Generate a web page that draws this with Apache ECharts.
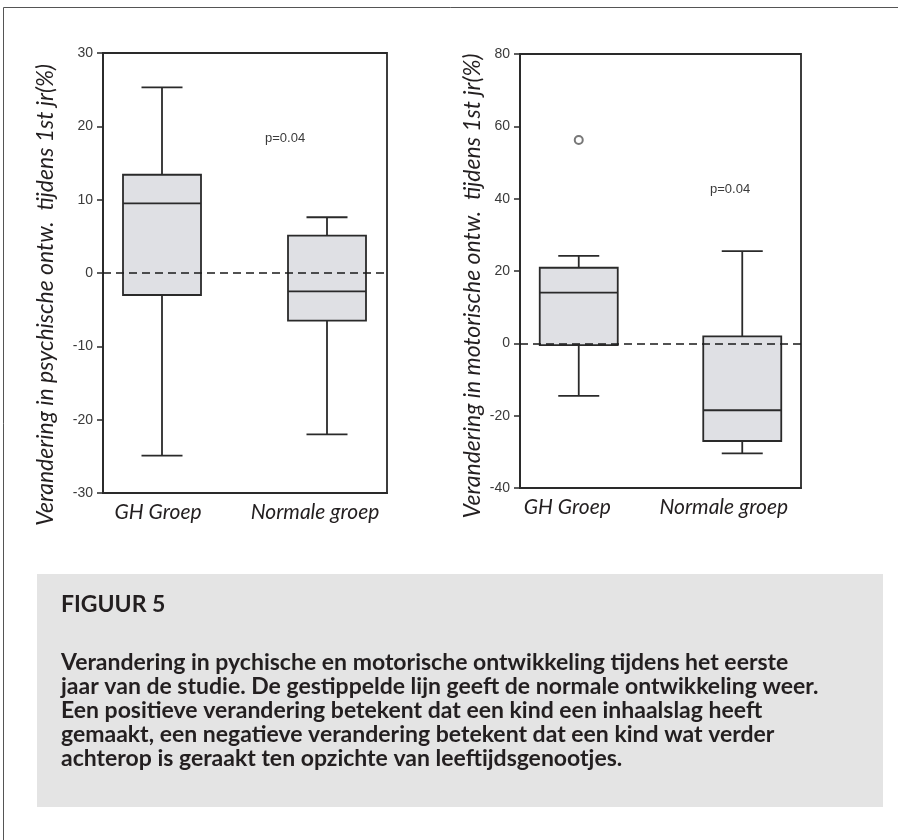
<!DOCTYPE html>
<html>
<head>
<meta charset="utf-8">
<script src="https://cdn.jsdelivr.net/npm/echarts@6/dist/echarts.min.js"></script>
<style>
  html, body { margin: 0; padding: 0; background: #fff; }
  #chart { width: 898px; height: 840px; }
</style>
</head>
<body>
<div id="chart"></div>
<script>
// groepen
const groups = ['GH Groep', 'Normale groep'];

// psychische ontwikkeling (links)
const psychMin = [-24.9, -22.0];
const psychQ1 = [-3.0, -6.5];
const psychMed = [9.5, -2.5];
const psychQ3 = [13.4, 5.1];
const psychMax = [25.3, 7.6];

// motorische ontwikkeling (rechts)
const motorMin = [-14.5, -30.4];
const motorQ1 = [-0.5, -27.0];
const motorMed = [14.0, -18.5];
const motorQ3 = [20.9, 1.9];
const motorMax = [24.2, 25.5];
const motorOutliers = [['GH Groep', 56.2]];

const psychTicks = { min: -30, max: 30, interval: 10 };
const motorTicks = { min: -40, max: 80, interval: 20 };

const yNamePsych = 'Verandering in psychische ontw.  tijdens 1st jr(%)';
const yNameMotor = 'Verandering in motorische ontw.  tijdens 1st jr(%)';
const pLabel = 'p=0.04';

const captionTitle = 'FIGUUR 5';
const captionLines = [
  'Verandering in pychische en motorische ontwikkeling tijdens het eerste',
  'jaar van de studie. De gestippelde lijn geeft de normale ontwikkeling weer.',
  'Een positieve verandering betekent dat een kind een inhaalslag heeft',
  'gemaakt, een negatieve verandering betekent dat een kind wat verder',
  'achterop is geraakt ten opzichte van leeftijdsgenootjes.'
];

const ink = '#2a2a2a';
const boxFill = '#dfe0e4';
const tickFont = "'Liberation Sans Narrow', 'Liberation Sans', Arial, sans-serif";
const textFont = "Lato, 'Open Sans', sans-serif";

const toBox = (mn, q1, md, q3, mx) => groups.map((g, i) => [i, mn[i], q1[i], md[i], q3[i], mx[i]]);

// box met smalle whisker-kapjes
const makeRender = (halfBox, halfCap) => (params, api) => {
  const idx = api.value(0);
  const pt = (d) => api.coord([idx, api.value(d)]);
  const pMin = pt(1), pQ1 = pt(2), pMed = pt(3), pQ3 = pt(4), pMax = pt(5);
  const cx = pMin[0];
  const st = { stroke: ink, lineWidth: 1.8 };
  return {
    type: 'group',
    children: [
      { type: 'line', shape: { x1: cx, y1: pMax[1], x2: cx, y2: pQ3[1] }, style: st },
      { type: 'line', shape: { x1: cx, y1: pQ1[1], x2: cx, y2: pMin[1] }, style: st },
      { type: 'line', shape: { x1: cx - halfCap, y1: pMax[1], x2: cx + halfCap, y2: pMax[1] }, style: st },
      { type: 'line', shape: { x1: cx - halfCap, y1: pMin[1], x2: cx + halfCap, y2: pMin[1] }, style: st },
      {
        type: 'rect',
        shape: { x: cx - halfBox, y: pQ3[1], width: halfBox * 2, height: pQ1[1] - pQ3[1] },
        style: { fill: boxFill, stroke: ink, lineWidth: 1.8 }
      },
      { type: 'line', shape: { x1: cx - halfBox, y1: pMed[1], x2: cx + halfBox, y2: pMed[1] }, style: st }
    ]
  };
};

const catLabelRich = (shifts) => {
  const rich = {};
  shifts.forEach((s, i) => {
    rich['s' + i] = {
      fontFamily: textFont, fontStyle: 'italic', fontSize: 21, color: '#231f20',
      padding: [0, s, 0, 0]
    };
  });
  return rich;
};

const visibleX = (gridIndex, shifts) => ({
  type: 'category',
  gridIndex,
  data: groups,
  axisLine: { show: true, onZero: false, lineStyle: { color: ink, width: 1.8 } },
  axisTick: { show: false },
  axisLabel: {
    margin: 9,
    formatter: (v, i) => '{s' + i + '|' + v + '}',
    rich: catLabelRich(shifts)
  }
});

const hiddenX = (gridIndex) => ({
  type: 'category', gridIndex, data: groups, show: false
});

const visibleY = (gridIndex, ticks, name, gap, pad) => ({
  type: 'value',
  gridIndex,
  min: ticks.min, max: ticks.max, interval: ticks.interval,
  name,
  nameLocation: 'middle',
  nameGap: gap,
  nameTextStyle: {
    fontFamily: textFont, fontStyle: 'italic', fontSize: 23, color: '#231f20',
    padding: [0, pad, 0, 0]
  },
  axisLine: { show: true, lineStyle: { color: ink, width: 1.8 } },
  axisTick: { show: true, length: 6, lineStyle: { color: ink, width: 1.5 } },
  axisLabel: { margin: 10, fontFamily: tickFont, fontSize: 14, color: '#3a3a3a' },
  splitLine: { show: false }
});

const hiddenY = (gridIndex, ticks) => ({
  type: 'value', gridIndex, min: ticks.min, max: ticks.max, show: false, splitLine: { show: false }
});

const zeroLine = (xi, yi) => ({
  type: 'line',
  xAxisIndex: xi,
  yAxisIndex: yi,
  data: [null, null],
  showSymbol: false,
  silent: true,
  z: 5,
  markLine: {
    silent: true,
    symbol: 'none',
    label: { show: false },
    lineStyle: { color: '#1a1a1a', width: 1.6, type: [8, 5] },
    data: [{ yAxis: 0 }]
  }
});

const chart = echarts.init(document.getElementById('chart'));

chart.setOption({
  animation: false,
  backgroundColor: '#fff',
  grid: [
    { left: 103, top: 53, width: 284, height: 440, show: true, borderColor: ink, borderWidth: 1.8, backgroundColor: 'transparent' },
    { left: 79.5, top: 53, width: 330, height: 440 },
    { left: 520, top: 54, width: 281, height: 434, show: true, borderColor: ink, borderWidth: 1.8, backgroundColor: 'transparent' },
    { left: 497, top: 54, width: 327, height: 434 }
  ],
  xAxis: [
    visibleX(0, [32, 2]),
    hiddenX(1),
    visibleX(2, [46, 14]),
    hiddenX(3)
  ],
  yAxis: [
    visibleY(0, psychTicks, yNamePsych, 46, 44),
    hiddenY(1, psychTicks),
    visibleY(2, motorTicks, yNameMotor, 36, 30),
    hiddenY(3, motorTicks)
  ],
  series: [
    {
      type: 'custom',
      xAxisIndex: 1, yAxisIndex: 1,
      renderItem: makeRender(39, 20.5),
      encode: { x: 0, y: [1, 2, 3, 4, 5] },
      data: toBox(psychMin, psychQ1, psychMed, psychQ3, psychMax),
      z: 2
    },
    zeroLine(0, 0),
    {
      type: 'custom',
      xAxisIndex: 3, yAxisIndex: 3,
      renderItem: makeRender(39, 20.5),
      encode: { x: 0, y: [1, 2, 3, 4, 5] },
      data: toBox(motorMin, motorQ1, motorMed, motorQ3, motorMax),
      z: 2
    },
    {
      type: 'scatter',
      xAxisIndex: 3, yAxisIndex: 3,
      symbol: 'circle',
      symbolSize: 8,
      itemStyle: { color: '#fff', borderColor: '#555', borderWidth: 2 },
      data: motorOutliers,
      z: 3
    },
    zeroLine(2, 2)
  ],
  graphic: [
    {
      type: 'polyline',
      shape: { points: [[3.5, 840], [3.5, 7.5], [898, 7.5]] },
      style: { stroke: '#555', lineWidth: 1, fill: null },
      silent: true
    },
    {
      type: 'text', left: 265, top: 132,
      style: { text: pLabel, fontFamily: tickFont, fontSize: 13, fill: '#3a3a3a' }
    },
    {
      type: 'text', left: 710, top: 183,
      style: { text: pLabel, fontFamily: tickFont, fontSize: 13, fill: '#3a3a3a' }
    },
    {
      type: 'rect',
      shape: { x: 37, y: 574, width: 846, height: 233 },
      style: { fill: '#e4e4e4' },
      silent: true
    },
    {
      type: 'text',
      style: {
        x: 61, y: 593, text: captionTitle,
        fontFamily: textFont, fontWeight: 'bold', fontSize: 23, lineHeight: 24,
        fill: '#231f20', verticalAlign: 'top'
      }
    },
    {
      type: 'text',
      style: {
        x: 61, y: 651, text: captionLines.join('\n'),
        fontFamily: textFont, fontWeight: 'bold', fontSize: 23, lineHeight: 24,
        fill: '#231f20', verticalAlign: 'top'
      }
    }
  ]
});
</script>
</body>
</html>
